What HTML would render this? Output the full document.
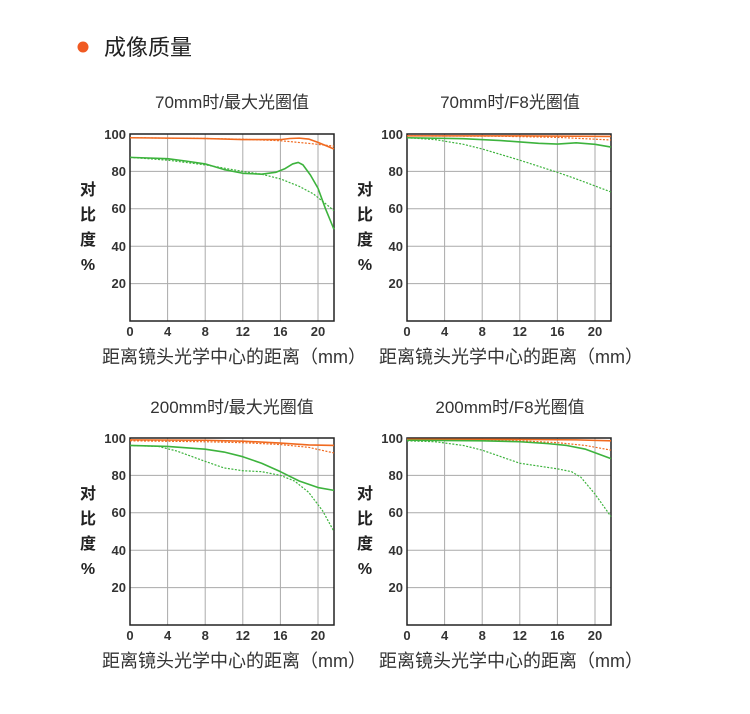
<!DOCTYPE html>
<html><head><meta charset="utf-8"><style>
body{margin:0;background:#fff;}
svg text{font-family:"Liberation Sans","Noto Sans CJK SC",sans-serif;}
</style></head><body>
<svg width="750" height="709" viewBox="0 0 750 709" xmlns="http://www.w3.org/2000/svg">
<circle cx="83" cy="47" r="5.5" fill="#f05a22"/>
<text x="104" y="55" font-size="22" fill="#222">成像质量</text>

<defs>
<g id="frame">
  <g stroke="#aaa" stroke-width="1">
    <line x1="37.6" y1="0" x2="37.6" y2="-187"/><line x1="75.2" y1="0" x2="75.2" y2="-187"/>
    <line x1="112.8" y1="0" x2="112.8" y2="-187"/><line x1="150.4" y1="0" x2="150.4" y2="-187"/>
    <line x1="188" y1="0" x2="188" y2="-187"/>
    <line x1="0" y1="-37.4" x2="204" y2="-37.4"/><line x1="0" y1="-74.8" x2="204" y2="-74.8"/>
    <line x1="0" y1="-112.2" x2="204" y2="-112.2"/><line x1="0" y1="-149.6" x2="204" y2="-149.6"/>
  </g>
  <rect x="0" y="-187" width="204" height="187" fill="none" stroke="#222" stroke-width="1.5"/>
  <g font-size="13" font-weight="bold" fill="#333" text-anchor="end">
    <text x="-4" y="-182">100</text><text x="-4" y="-145">80</text><text x="-4" y="-108">60</text>
    <text x="-4" y="-70">40</text><text x="-4" y="-33">20</text>
  </g>
  <g font-size="13" font-weight="bold" fill="#333" text-anchor="middle">
    <text x="0" y="15">0</text><text x="37.6" y="15">4</text><text x="75.2" y="15">8</text>
    <text x="112.8" y="15">12</text><text x="150.4" y="15">16</text><text x="188" y="15">20</text>
  </g>
  <g font-size="16" font-weight="bold" fill="#222" text-anchor="middle">
    <text x="-42" y="-126">对</text><text x="-42" y="-101">比</text><text x="-42" y="-76">度</text><text x="-42" y="-51">%</text>
  </g>
  <text x="104" y="42" font-size="18" fill="#333" text-anchor="middle">距离镜头光学中心的距离（mm）</text>
</g>
</defs>

<!-- TL -->
<text x="232" y="108" font-size="17" fill="#333" text-anchor="middle">70mm时/最大光圈值</text>
<g transform="translate(130,321)">
<use href="#frame"/>
<g transform="scale(9.4,-1.87)" fill="none" stroke-linejoin="round">
<polyline vector-effect="non-scaling-stroke" stroke="#f06a20" stroke-width="1.6" points="0,98 8,97.6 12,97 16,97 17,97.6 18,97.8 19,97.3 20,95.5 21.7,92"/>
<polyline vector-effect="non-scaling-stroke" stroke="#f06a20" stroke-width="1.2" stroke-dasharray="2,1.5" points="0,98 8,97.6 12,97.2 16,96.4 19,95 21.7,93.5"/>
<polyline vector-effect="non-scaling-stroke" stroke="#3db33d" stroke-width="1.6" points="0,87.5 4,86.8 6,85.5 8,84 10,81 12,79 14,78.5 15.5,79.5 16.5,81.5 17.3,84 17.9,84.8 18.4,83.5 19.2,78 20,71 20.8,60 21.7,49"/>
<polyline vector-effect="non-scaling-stroke" stroke="#3db33d" stroke-width="1.2" stroke-dasharray="2,1.5" points="0,87.5 4,86 8,83.5 12,80 14,78.5 16,76 18,72 19.5,68 20.5,64 21.7,59"/>
</g></g>

<!-- TR -->
<text x="510" y="108" font-size="17" fill="#333" text-anchor="middle">70mm时/F8光圈值</text>
<g transform="translate(407,321)">
<use href="#frame"/>
<g transform="scale(9.4,-1.87)" fill="none" stroke-linejoin="round">
<polyline vector-effect="non-scaling-stroke" stroke="#f06a20" stroke-width="1.6" points="0,99 12,99 21.7,98.7"/>
<polyline vector-effect="non-scaling-stroke" stroke="#f06a20" stroke-width="1.2" stroke-dasharray="2,1.5" points="0,99 10,98.8 16,98.2 21.7,96.8"/>
<polyline vector-effect="non-scaling-stroke" stroke="#3db33d" stroke-width="1.6" points="0,98 6,97.5 10,96.5 14,95 16,94.6 18,95.3 20,94.5 21.7,93"/>
<polyline vector-effect="non-scaling-stroke" stroke="#3db33d" stroke-width="1.2" stroke-dasharray="2,1.5" points="0,98 3,97 6,94.5 8,92 12,86 16,79.5 18,76 21.7,69"/>
</g></g>

<!-- BL -->
<text x="232" y="413" font-size="17" fill="#333" text-anchor="middle">200mm时/最大光圈值</text>
<g transform="translate(130,625)">
<use href="#frame"/>
<g transform="scale(9.4,-1.87)" fill="none" stroke-linejoin="round">
<polyline vector-effect="non-scaling-stroke" stroke="#f06a20" stroke-width="1.6" points="0,99 8,98.8 12,98.3 16,97.3 19,96.3 21.7,96"/>
<polyline vector-effect="non-scaling-stroke" stroke="#f06a20" stroke-width="1.2" stroke-dasharray="2,1.5" points="0,98.5 8,98 12,97.5 16,96.5 19,95 21.7,92"/>
<polyline vector-effect="non-scaling-stroke" stroke="#3db33d" stroke-width="1.6" points="0,96 4,95.5 8,94 10,92.5 12,90 14,86.5 16,82 18,77 20,73.5 21.7,72"/>
<polyline vector-effect="non-scaling-stroke" stroke="#3db33d" stroke-width="1.2" stroke-dasharray="2,1.5" points="0,96 3,95.5 5,93 8,87.5 10,84 12,82.5 14,82 16,80 17.5,77 19,71 20.5,61 21.7,50"/>
</g></g>

<!-- BR -->
<text x="510" y="413" font-size="17" fill="#333" text-anchor="middle">200mm时/F8光圈值</text>
<g transform="translate(407,625)">
<use href="#frame"/>
<g transform="scale(9.4,-1.87)" fill="none" stroke-linejoin="round">
<polyline vector-effect="non-scaling-stroke" stroke="#f06a20" stroke-width="1.6" points="0,99.3 12,99.2 18,99 21.7,98.5"/>
<polyline vector-effect="non-scaling-stroke" stroke="#f06a20" stroke-width="1.2" stroke-dasharray="2,1.5" points="0,99 12,98.5 16,97.5 19,96 21.7,93.5"/>
<polyline vector-effect="non-scaling-stroke" stroke="#3db33d" stroke-width="1.6" points="0,98.8 8,98.5 12,98 15,97 17,96 19,94 21.7,89"/>
<polyline vector-effect="non-scaling-stroke" stroke="#3db33d" stroke-width="1.2" stroke-dasharray="2,1.5" points="0,98.5 3,98 6,96 8,93.5 10,90 12,86.5 14,85 16,83.5 17.5,82 18.5,79 20,70 21.7,58"/>
</g></g>
</svg>
</body></html>
